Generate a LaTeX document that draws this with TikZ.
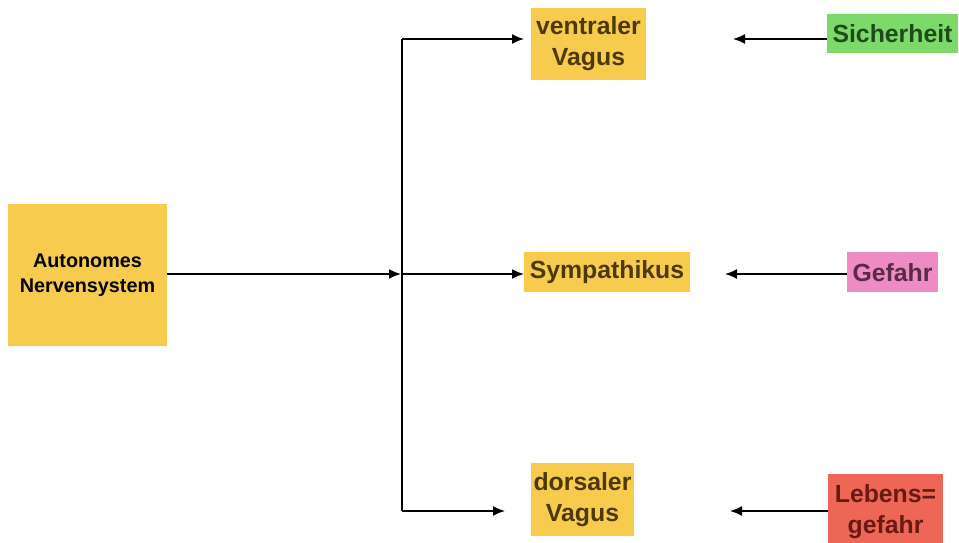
\documentclass[tikz,border=0pt]{standalone}
\usepackage{fontspec}
\setmainfont{Liberation Sans}
\usetikzlibrary{arrows.meta}
\definecolor{boxyellow}{HTML}{F7CB4D}
\definecolor{boxgreen}{HTML}{7DD96A}
\definecolor{boxpink}{HTML}{EE8AC4}
\definecolor{boxred}{HTML}{EE6655}
\definecolor{txtyellow}{HTML}{4B3A06}
\definecolor{txtgreen}{HTML}{1F4A1A}
\definecolor{txtpink}{HTML}{5A2A48}
\definecolor{txtred}{HTML}{6A1A14}
\tikzset{
  boxnode/.style={inner sep=0pt, align=center, font=\bfseries\fontsize{24.8bp}{31bp}\selectfont},
  conn/.style={line width=1.6bp, -{Latex[length=12bp,width=10bp]}},
  plainline/.style={line width=1.6bp}
}
\begin{document}
\begin{tikzpicture}[x=1bp,y=-1bp]
\clip (0,0) rectangle (959,543);
\useasboundingbox (0,0) rectangle (959,543);
\fill[white] (0,0) rectangle (959,543);

\node[boxnode, fill=boxyellow, minimum width=159bp, minimum height=141bp,
      font=\bfseries\fontsize{19.8bp}{25bp}\selectfont, text=black]
  (ans) at (87.5,275) {Autonomes\\Nervensystem};

\node[boxnode, fill=boxyellow, text=txtyellow, minimum width=115bp, minimum height=72bp]
  (vv) at (588.5,44) {ventraler\\Vagus};
\node[boxnode, fill=boxyellow, text=txtyellow, minimum width=166bp, minimum height=40bp]
  (sym) at (607,272.5) {Sympathikus};
\node[boxnode, fill=boxyellow, text=txtyellow, minimum width=103bp, minimum height=73bp]
  (dv) at (582.5,499.5) {dorsaler\\Vagus};

\node[boxnode, fill=boxgreen, text=txtgreen, minimum width=131bp, minimum height=39bp]
  (sich) at (892.5,34) {Sicherheit};
\node[boxnode, fill=boxpink, text=txtpink, minimum width=91bp, minimum height=40bp]
  (gef) at (892.5,272.5) {Gefahr};
\node[boxnode, fill=boxred, text=txtred, minimum width=115bp, minimum height=76bp]
  (leb) at (885.5,512) {Lebens=\\gefahr};

\coordinate (jmid) at (402,274);
\coordinate (jtop) at (402,39);
\coordinate (jbot) at (402,511);
\coordinate (vvin) at (524,39);
\coordinate (symin) at (524,274);
\coordinate (dvin) at (505,511);
\coordinate (sichend) at (733,39);
\coordinate (gefend) at (725,274);
\coordinate (lebend) at (730,511);

\draw[plainline] (jtop) -- (jbot);
\draw[conn] (ans.east |- jmid) -- ([xshift=-1bp]jmid);
\draw[conn] (jmid) -- (symin);
\draw[conn] (jtop) -- (vvin);
\draw[conn] (jbot) -- (dvin);
\draw[conn] (sich.west |- sichend) -- (sichend);
\draw[conn] (gef.west |- gefend) -- (gefend);
\draw[conn] (leb.west |- lebend) -- (lebend);
\end{tikzpicture}
\end{document}
